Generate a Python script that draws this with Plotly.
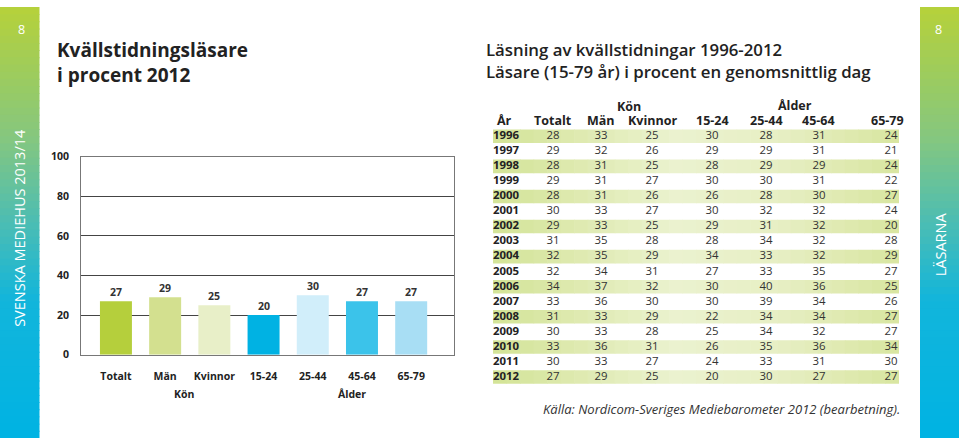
import plotly.graph_objects as go

# ---------------- data ----------------
bar_categories = ["Totalt", "Män", "Kvinnor", "15-24", "25-44", "45-64", "65-79"]
bar_values_2012 = [27, 29, 25, 20, 30, 27, 27]
bar_groups = ["Kön", "Ålder"]

years = [1996, 1997, 1998, 1999, 2000, 2001, 2002, 2003, 2004,
         2005, 2006, 2007, 2008, 2009, 2010, 2011, 2012]
col_totalt = [28, 29, 28, 29, 28, 30, 29, 31, 32, 32, 34, 33, 31, 30, 33, 30, 27]
col_man = [33, 32, 31, 31, 31, 33, 33, 35, 35, 34, 37, 36, 33, 33, 36, 33, 29]
col_kvinnor = [25, 26, 25, 27, 26, 27, 25, 28, 29, 31, 32, 30, 29, 28, 31, 27, 25]
col_15_24 = [30, 29, 28, 30, 26, 30, 29, 28, 34, 27, 30, 30, 22, 25, 26, 24, 20]
col_25_44 = [28, 29, 29, 30, 28, 32, 31, 34, 33, 33, 40, 39, 34, 34, 35, 33, 30]
col_45_64 = [31, 31, 29, 31, 30, 32, 32, 32, 32, 35, 36, 34, 34, 32, 36, 31, 27]
col_65_79 = [24, 21, 24, 22, 27, 24, 20, 28, 29, 27, 25, 26, 27, 27, 34, 30, 27]
table_headers = ["År", "Totalt", "Män", "Kvinnor", "15-24", "25-44", "45-64", "65-79"]

# ---------------- styles ----------------
W, H = 959, 445
FONT = "Open Sans"
DARK = "#222222"
bar_colors = ["#b5cf3c", "#d3e08f", "#e8efc8", "#00b2e3", "#d1eefa", "#3bc3ea", "#a8def4"]
col_x = [553, 601, 652, 712, 766, 819, 891]   # table column centres (pixel units)
head_x = [553, 601, 652, 712, 766, 818, 887]


def px(x):
    return x / W


def py(y):
    return 1 - y / H


def lerp(c1, c2, t):
    a = [int(c1[i:i + 2], 16) for i in (1, 3, 5)]
    b = [int(c2[i:i + 2], 16) for i in (1, 3, 5)]
    return "#%02x%02x%02x" % tuple(round(a[k] + (b[k] - a[k]) * t) for k in range(3))


def grad(stops, t):
    for (t0, c0), (t1, c1) in zip(stops, stops[1:]):
        if t <= t1:
            return lerp(c0, c1, (t - t0) / (t1 - t0) if t1 > t0 else 0)
    return stops[-1][1]


fig = go.Figure()

# bar chart
fig.add_trace(go.Bar(
    x=bar_categories, y=bar_values_2012,
    marker=dict(color=bar_colors, line=dict(width=0)),
    width=0.65, hoverinfo="skip",
    xaxis="x", yaxis="y",
))

# table values
table_cols = [col_totalt, col_man, col_kvinnor, col_15_24, col_25_44, col_45_64, col_65_79]
for cx, col in zip(col_x, table_cols):
    fig.add_trace(go.Scatter(
        x=[cx] * len(years), y=years, mode="text",
        text=[str(v) for v in col], textposition="middle center",
        textfont=dict(family=FONT, size=11.4, color="#333333"),
        xaxis="x2", yaxis="y2", hoverinfo="skip", showlegend=False,
    ))
fig.add_trace(go.Scatter(
    x=[493] * len(years), y=years, mode="text",
    text=[str(y) for y in years], textposition="middle right",
    textfont=dict(family=FONT, size=11.4, color=DARK, weight="bold"),
    xaxis="x2", yaxis="y2", hoverinfo="skip", showlegend=False,
))

shapes = []
# side gradient strips
strip_stops = [(0.0, "#b6d13a"), (0.3, "#86c77e"), (0.5, "#4cbdb3"), (0.68, "#12b5db"), (1.0, "#00b3e3")]
N = 60
for i in range(N):
    y0 = i / N
    y1 = (i + 1) / N + 0.002
    c = grad(strip_stops, (i + 0.5) / N)
    for x0, x1 in ((0, 39.5), (920, 959)):
        shapes.append(dict(type="rect", xref="paper", yref="paper",
                           x0=px(x0), x1=px(x1), y0=max(0, 1 - y1), y1=1 - y0,
                           fillcolor=c, line=dict(width=0), layer="below"))

# table stripes (horizontal gradient)
stripe_stops = [(0.0, "#d3e396"), (0.45, "#ebf2cf"), (0.7, "#e7efc4"), (1.0, "#d8e5a0")]
M = 30
x_left, x_right = 493, 899
for k, yr in enumerate(years):
    if k % 2 == 0:
        for j in range(M):
            xa = x_left + (x_right - x_left) * j / M
            xb = x_left + (x_right - x_left) * (j + 1) / M + 0.6
            shapes.append(dict(type="rect", xref="x2", yref="y2",
                               x0=xa, x1=min(xb, x_right), y0=yr - 0.45, y1=yr + 0.45,
                               fillcolor=grad(stripe_stops, (j + 0.5) / M),
                               line=dict(width=0), layer="below"))

annotations = []

# bar value labels (positioned from the data)
for cat, v in zip(bar_categories, bar_values_2012):
    annotations.append(dict(text=str(v), x=cat, y=v, xref="x", yref="y",
                            xanchor="center", yanchor="bottom", yshift=0, showarrow=False,
                            font=dict(family=FONT, size=10.5, color="#333333", weight="bold")))


def ann(text, x, y, size, color=DARK, weight="normal", xanchor="left", style="normal",
        textangle=0, family=FONT, xref="paper"):
    annotations.append(dict(text=text, x=x, y=y, xref=xref, yref="paper",
                            xanchor=xanchor, yanchor="middle", showarrow=False,
                            textangle=textangle, align="left",
                            font=dict(family=family, size=size, color=color,
                                      weight=weight, style=style)))


# page numbers and side texts
ann("8", px(21.5), py(23), 12.5, color="#ffffff", xanchor="center")
ann("8", px(938), py(23), 12.5, color="#ffffff", xanchor="center")
ann("SVENSKA MEDIEHUS 2013/14", px(20), py(228), 14.5, color="#ffffff",
    xanchor="center", textangle=-90)
ann("LÄSARNA", px(940), py(245), 14.5, color="#ffffff", xanchor="center", textangle=-90)

# titles
ann("Kvällstidningsläsare<br>i procent 2012", px(55), py(57), 19, weight="bold")
ann("Läsning av kvällstidningar 1996-2012<br>Läsare (15-79 år) i procent en genomsnittlig dag",
    px(484), py(55.5), 16.8, weight=600)

# bar chart group labels
ann(bar_groups[0], px(184), py(400), 10.5, weight="bold", xanchor="center")
ann(bar_groups[1], px(352), py(400), 10.5, weight="bold", xanchor="center")

# table headers
ann("Kön", px(629), py(102.5), 12.5, weight="bold", xanchor="center")
ann("Ålder", px(795), py(101.5), 12.5, weight="bold", xanchor="center")
ann(table_headers[0], px(495), py(117.5), 12.5, weight="bold", xanchor="left")
for hx, h in zip(head_x, table_headers[1:]):
    ann(h, px(hx), py(117.5), 12.5, weight="bold", xanchor="center")

# source
ann("Källa: Nordicom-Sveriges Mediebarometer 2012 (bearbetning).", px(902), py(415), 13,
    color="#333333", xanchor="right", style="italic")

fig.update_layout(
    width=W, height=H,
    margin=dict(l=0, r=0, t=0, b=0),
    paper_bgcolor="#ffffff", plot_bgcolor="#ffffff",
    showlegend=False,
    xaxis=dict(domain=[px(81), px(454)], range=[-0.71, 6.87], type="category",
               showline=True, mirror=True, linecolor="#777777", linewidth=1,
               showgrid=False, zeroline=False, ticks="",
               tickfont=dict(family=FONT, size=10.5, color=DARK, weight="bold"),
               ticklabelstandoff=12, fixedrange=True),
    yaxis=dict(domain=[py(359), py(154.5)], range=[0, 100], tickvals=[0, 20, 40, 60, 80, 100],
               showline=True, mirror=True, linecolor="#777777", linewidth=1,
               showgrid=True, gridcolor="#444444", gridwidth=1, zeroline=False,
               ticks="", tickfont=dict(family=FONT, size=10.5, color=DARK, weight="bold"),
               ticklabelstandoff=9, fixedrange=True),
    xaxis2=dict(domain=[px(480), px(910)], range=[480, 910], visible=False, fixedrange=True),
    yaxis2=dict(domain=[py(389.8), py(125.7)], range=[2012.5, 1995.5], visible=False,
                fixedrange=True),
    shapes=shapes,
    annotations=annotations,
)

fig.write_html(
    "out.html",
    config={"displayModeBar": False},
    post_script="document.body.style.margin='0';document.body.style.overflow='hidden';",
)
